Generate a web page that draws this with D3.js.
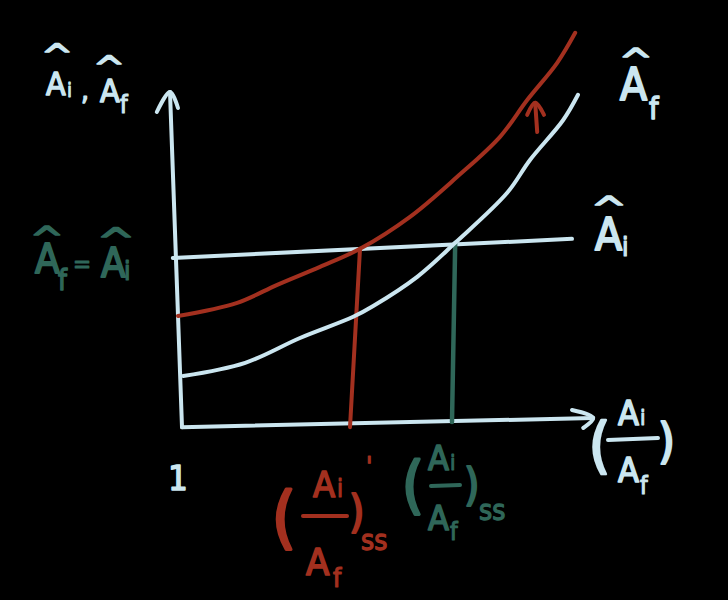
<!DOCTYPE html>
<html>
<head>
<meta charset="utf-8">
<script src="https://cdn.jsdelivr.net/npm/d3@7"></script>
<style>
  html, body { margin: 0; padding: 0; background: #000; }
  svg { display: block; }
  text { font-family: "Liberation Sans Narrow", "DejaVu Sans Condensed", "Noto Sans", sans-serif; }
</style>
</head>
<body>
<svg id="chart"></svg>
<script>
// Curves (x = Ai/Af, y = A hat), in sketch units
const afCurveX  = [0.03, 1.58, 2.95, 4.28, 4.78, 5.88, 6.83, 8.13, 8.7, 9.53, 9.9];
const afCurveY  = [1.25, 1.58, 2.2, 2.73, 3.0, 3.73, 4.58, 5.83, 6.65, 7.65, 8.28];
const afShiftX  = [-0.1, 1.38, 2.38, 3.45, 4.45, 5.7, 6.88, 7.95, 8.63, 9.38, 9.83];
const afShiftY  = [2.75, 3.08, 3.53, 3.98, 4.43, 5.23, 6.23, 7.23, 8.15, 9.08, 9.83];
const aiLineX   = [-0.23, 9.75];
const aiLineY   = [4.2, 4.68];
// steady state drop lines
const ssOldX = [6.83, 6.75];
const ssOldY = [4.58, 0.1];
const ssNewX = [4.45, 4.2];
const ssNewY = [4.43, -0.03];
// hand drawn axes
const yAxisX = [0, -0.3];
const yAxisY = [-0.03, 8.35];
const xAxisX = [0, 10.28];
const xAxisY = [-0.03, 0.2];
const tickLabels = ["1"];

const W = 728, H = 600;
const blue = "#cbe6f0", red = "#a3301f", green = "#2f6759";

const svg = d3.select("#chart")
    .attr("width", W)
    .attr("height", H)
    .style("background", "#000");

const x = d3.scaleLinear().domain([0, 10]).range([182, 582]);
const y = d3.scaleLinear().domain([0, 10]).range([426, 26]);

const zip = (xs, ys) => xs.map((v, i) => [v, ys[i]]);

const line = d3.line()
    .x(d => x(d[0]))
    .y(d => y(d[1]))
    .curve(d3.curveCatmullRom);

function stroke(points, color, width) {
    svg.append("path")
        .datum(points)
        .attr("fill", "none")
        .attr("stroke", color)
        .attr("stroke-width", width)
        .attr("stroke-linecap", "round")
        .attr("stroke-linejoin", "round")
        .attr("d", line);
}

// axes
stroke(zip(yAxisX, yAxisY), blue, 4);
stroke(zip(xAxisX, xAxisY), blue, 4);
// arrow heads
const yTip = [yAxisX[1], yAxisY[1]];
stroke([[yTip[0] - 0.33, yTip[1] - 0.5], yTip, [yTip[0] + 0.2, yTip[1] - 0.4]], blue, 4);
const xTip = [xAxisX[1], xAxisY[1]];
stroke([[xTip[0] - 0.53, xTip[1] + 0.2], xTip, [xTip[0] - 0.25, xTip[1] - 0.25]], blue, 4);

// A_i horizontal
stroke(zip(aiLineX, aiLineY), blue, 4);

// drop lines
stroke(zip(ssOldX, ssOldY), green, 4.5);
stroke(zip(ssNewX, ssNewY), red, 4);

// A_f curves
stroke(zip(afCurveX, afCurveY), blue, 4);
stroke(zip(afShiftX, afShiftY), red, 4);

// shift arrow
const shaftBase = [8.88, 7.35], shaftTip = [8.83, 8.08];
stroke([shaftBase, shaftTip], red, 4);
stroke([[shaftTip[0] - 0.2, shaftTip[1] - 0.3], shaftTip, [shaftTip[0] + 0.22, shaftTip[1] - 0.3]], red, 4);

// text helpers
function label(txt, px, py, size, color, anchor = "start") {
    return svg.append("text")
        .attr("x", px)
        .attr("y", py)
        .attr("font-size", size)
        .attr("fill", color)
        .attr("stroke", color)
        .attr("stroke-width", size * 0.045)  // thicker, marker like strokes
        .attr("stroke-linejoin", "round")
        .attr("text-anchor", anchor)
        .text(txt);
}
function hat(cx, cy, size, color) {
    label("^", cx, cy, size, color, "middle")
        .attr("transform", `translate(${cx},${cy}) scale(1.4,1) translate(${-cx},${-cy})`);
}
function fracLine(x1, y1, x2, y2, color) {
    svg.append("line")
        .attr("x1", x1).attr("y1", y1)
        .attr("x2", x2).attr("y2", y2)
        .attr("stroke", color)
        .attr("stroke-width", 4)
        .attr("stroke-linecap", "round");
}

// y axis title: A_i, A_f with hats
label("A", 46, 95, 32, blue);
label("i", 67, 97, 20, blue);
label(",", 81, 100, 28, blue);
label("A", 100, 102, 32, blue);
label("f", 120, 113, 24, blue);
hat(57, 66, 30, blue);
hat(109, 78, 30, blue);

// A_f = A_i
label("A", 35, 273, 40, green);
label("f", 58, 290, 28, green);
label("=", 73, 272, 24, green);
label("A", 101, 277, 40, green);
label("i", 124, 280, 26, green);
hat(47, 250, 32, green);
hat(116, 253, 36, green);

// curve names
label("A", 620, 100, 44, blue);
label("f", 649, 119, 30, blue);
hat(636, 72, 32, blue);
label("A", 595, 250, 44, blue);
label("i", 622, 256, 26, blue);
hat(609, 221, 34, blue);

// tick at origin
label(tickLabels[0], 178, 490, 34, blue, "middle");

// x axis title (Ai / Af)
label("(", 589, 466, 60, blue);
label("A", 618, 425, 34, blue);
label("i", 640, 425, 22, blue);
fracLine(608, 440, 658, 438, blue);
label("A", 618, 482, 34, blue);
label("f", 640, 494, 24, blue);
label(")", 658, 458, 48, blue);

// new steady state (red)
label("(", 272, 541, 68, red);
label("A", 313, 497, 36, red);
label("i", 337, 497, 24, red);
label("'", 366, 476, 26, red);
fracLine(303, 516, 347, 516, red);
label("A", 306, 575, 38, red);
label("f", 333, 587, 26, red);
label(")", 349, 527, 44, red);
label("ss", 361, 550, 28, red);

// old steady state (green)
label("(", 402, 506, 62, green);
label("A", 428, 470, 34, green);
label("i", 450, 470, 22, green);
fracLine(431, 486, 460, 485, green);
label("A", 428, 530, 34, green);
label("f", 450, 540, 24, green);
label(")", 464, 500, 44, green);
label("ss", 479, 520, 28, green);
</script>
</body>
</html>
